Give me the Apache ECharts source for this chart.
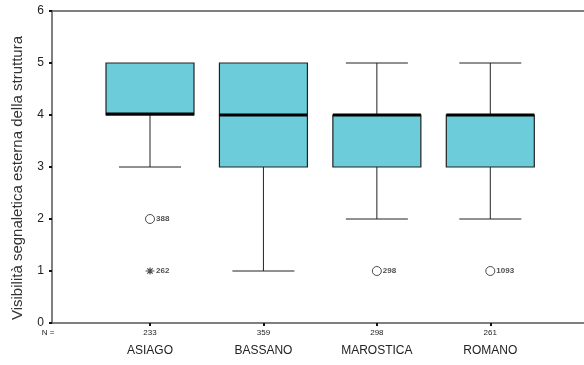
<!DOCTYPE html>
<html>
<head>
<meta charset="utf-8">
<script src="https://cdn.jsdelivr.net/npm/echarts@6/dist/echarts.min.js"></script>
<style>html,body{margin:0;padding:0;background:#fff;}#c{width:584px;height:365px;}</style>
</head>
<body>
<div id="c"></div>
<script>
var categories = ['ASIAGO', 'BASSANO', 'MAROSTICA', 'ROMANO'];
var nCounts = [233, 359, 298, 261];
var lowWhisker = [3, 1, 2, 2];
var q1 = [4, 3, 3, 3];
var median = [4, 4, 4, 4];
var q3 = [5, 5, 4, 4];
var highWhisker = [5, 5, 5, 5];
var outlierCat = [0, 0, 2, 3];
var outlierValue = [2, 1, 1, 1];
var outlierKind = ['circle', 'extreme', 'circle', 'circle'];
var outlierLabel = ['388', '262', '298', '1093'];
var yTicks = [0, 1, 2, 3, 4, 5, 6];
var yTitle = 'Visibilità segnaletica esterna della struttura';

var FONT = 'Arial, "Liberation Sans", sans-serif';
var xMin = 0.136, unitPx = 113.43, gridLeft = 52, gridRight = 0;
var xMax = xMin + (584 - gridRight - gridLeft) / unitPx;
var boxW = 88 / unitPx, capW = 62 / unitPx;
var starPath = 'path://M0,5L10,5M5,1L5,9M2,2L8,8M8,2L2,8';

var boxData = categories.map(function (c, i) {
  return [i + 1, lowWhisker[i], q1[i], median[i], q3[i], highWhisker[i]];
});
var outData = outlierCat.map(function (ci, k) {
  return {
    value: [ci + 1, outlierValue[k]],
    symbol: outlierKind[k] === 'circle' ? 'circle' : starPath,
    symbolSize: outlierKind[k] === 'circle' ? 9 : [9, 7],
    label: { formatter: outlierLabel[k] }
  };
});

var axisLineStyle = { color: '#555', width: 1.5 };

var chart = echarts.init(document.getElementById('c'));
chart.setOption({
  animation: false,
  backgroundColor: '#fff',
  grid: { left: gridLeft, right: gridRight, top: 11, bottom: 42 },
  graphic: [
    { type: 'text', x: 18, y: 178, rotation: Math.PI / 2,
      style: { text: yTitle, font: '15px ' + FONT, fill: '#333', align: 'center', verticalAlign: 'middle' } },
    { type: 'text', x: 48, y: 333,
      style: { text: 'N =', font: '8px ' + FONT, fill: '#222', align: 'center', verticalAlign: 'middle' } }
  ],
  xAxis: [{
    type: 'value', min: xMin, max: xMax,
    splitLine: { show: false },
    axisLine: { show: true, lineStyle: axisLineStyle },
    axisTick: { show: true, customValues: [1, 2, 3, 4], length: 3, lineStyle: { color: '#111', width: 2 } },
    axisLabel: {
      customValues: [1, 2, 3, 4], margin: 5,
      formatter: function (v) {
        var i = Math.round(v) - 1;
        return '{n|' + nCounts[i] + '}\n{c|' + categories[i] + '}';
      },
      rich: {
        n: { fontSize: 8, lineHeight: 10, color: '#222', fontFamily: FONT },
        c: { fontSize: 12, lineHeight: 26, color: '#222', fontFamily: FONT }
      }
    }
  }, {
    type: 'value', min: xMin, max: xMax, position: 'top',
    splitLine: { show: false },
    axisLine: { show: true, onZero: false, lineStyle: axisLineStyle },
    axisTick: { show: false },
    axisLabel: { show: false }
  }],
  yAxis: {
    type: 'value', min: 0, max: 6, interval: 1,
    splitLine: { show: false },
    axisLine: { show: true, lineStyle: axisLineStyle },
    axisTick: { show: true, length: 3, lineStyle: { color: '#111', width: 2 } },
    axisLabel: { fontSize: 12, color: '#222', margin: 8, fontFamily: FONT,
      formatter: function (v) { return yTicks.indexOf(v) >= 0 ? String(v) : ''; } }
  },
  series: [
    {
      type: 'custom',
      xAxisIndex: 0,
      data: boxData,
      renderItem: function (params, api) {
        var x = api.value(0), lo = api.value(1), b1 = api.value(2), md = api.value(3), b3 = api.value(4), hi = api.value(5);
        var hb = api.size([boxW, 0])[0] / 2;
        var hc = api.size([capW, 0])[0] / 2;
        var pTop = api.coord([x, b3]), pBot = api.coord([x, b1]), pMed = api.coord([x, md]);
        var pLo = api.coord([x, lo]), pHi = api.coord([x, hi]);
        var cx = pTop[0];
        var ws = { stroke: '#222', lineWidth: 1 };
        var ch = [];
        if (lo < b1) {
          ch.push({ type: 'line', shape: { x1: cx, y1: pBot[1], x2: cx, y2: pLo[1] }, style: ws });
          ch.push({ type: 'line', shape: { x1: cx - hc, y1: pLo[1], x2: cx + hc, y2: pLo[1] }, style: ws });
        }
        if (hi > b3) {
          ch.push({ type: 'line', shape: { x1: cx, y1: pTop[1], x2: cx, y2: pHi[1] }, style: ws });
          ch.push({ type: 'line', shape: { x1: cx - hc, y1: pHi[1], x2: cx + hc, y2: pHi[1] }, style: ws });
        }
        ch.push({ type: 'rect', shape: { x: cx - hb, y: pTop[1], width: 2 * hb, height: pBot[1] - pTop[1] },
          style: { fill: '#6CCCDA', stroke: '#222', lineWidth: 1.2 } });
        var my = md === b1 ? pMed[1] - 1 : pMed[1];
        ch.push({ type: 'line', shape: { x1: cx - hb, y1: my, x2: cx + hb, y2: my }, style: { stroke: '#000', lineWidth: 3 } });
        return { type: 'group', children: ch };
      },
      z: 2
    },
    {
      type: 'scatter',
      xAxisIndex: 0,
      data: outData,
      itemStyle: { color: '#fff', borderColor: '#222', borderWidth: 1 },
      label: { show: true, position: 'right', distance: 1, fontSize: 8, fontWeight: 'bold', color: '#222', fontFamily: FONT },
      z: 3
    }
  ]
});
</script>
</body>
</html>
